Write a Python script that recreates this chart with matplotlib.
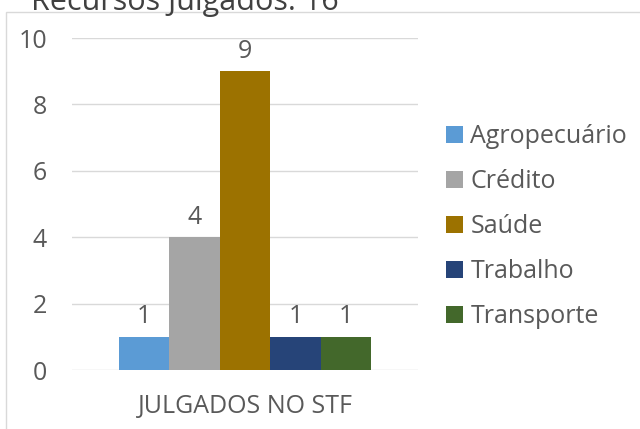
import matplotlib
matplotlib.use("Agg")
import matplotlib.pyplot as plt
from matplotlib.patches import Rectangle

categories = ["Agropecuário", "Crédito", "Saúde", "Trabalho", "Transporte"]
values = [1, 4, 9, 1, 1]
group_label = ["JULGADOS NO STF"]
colors = ["#5B9BD5", "#A5A5A5", "#9C7200", "#264478", "#43682B"]
title = "Recursos Julgados: 16"
yticks = [0, 2, 4, 6, 8, 10]

plt.rcParams['font.family'] = ['Open Sans', 'DejaVu Sans']
txt = "#595959"
fs = 18

fig = plt.figure(figsize=(6.4, 4.29), dpi=100)
W, H = 640, 429
fig.patches.append(Rectangle((6 / W, -0.1), 1.2, 1.1 - 12 / H, transform=fig.transFigure,
                             fill=False, edgecolor="#D9D9D9", linewidth=1.0))
ax = fig.add_axes([72 / W, 1 - 370 / H, 346 / W, 332 / H])

w = 0.1457
n = len(categories)
for i, (c, v, col) in enumerate(zip(categories, values, colors)):
    x = (i - (n - 1) / 2) * w
    ax.bar(x, v, width=w, color=col, label=c, zorder=3)
    ax.text(x, v + 0.22, str(v), ha="center", va="bottom", fontsize=fs, color=txt)

ax.set_xlim(-0.5, 0.5)
ax.set_ylim(0, 10)
ax.set_yticks(yticks)
ax.set_yticklabels([str(t) for t in yticks], fontsize=fs, color=txt)
ax.set_xticks([0])
ax.set_xticklabels(group_label, fontsize=fs, color=txt)
ax.tick_params(axis="both", length=0)
ax.tick_params(axis="y", pad=18)
ax.tick_params(axis="x", pad=17)
ax.grid(axis="y", color="#D9D9D9", linewidth=1, zorder=0)
for s in ax.spines.values():
    s.set_visible(False)

leg = fig.legend(loc="upper left", bbox_to_anchor=(436 / W, 1 - 114 / H), frameon=False,
                 fontsize=fs, handlelength=0.68, handleheight=0.68, handletextpad=0.3,
                 labelspacing=0.80, borderaxespad=0)
for t in leg.get_texts():
    t.set_color(txt)

fig.text(31 / W, 1 - 10 / H, title, fontsize=22, color="#404040", va="baseline", ha="left")

fig.savefig("out.png", dpi=100)
